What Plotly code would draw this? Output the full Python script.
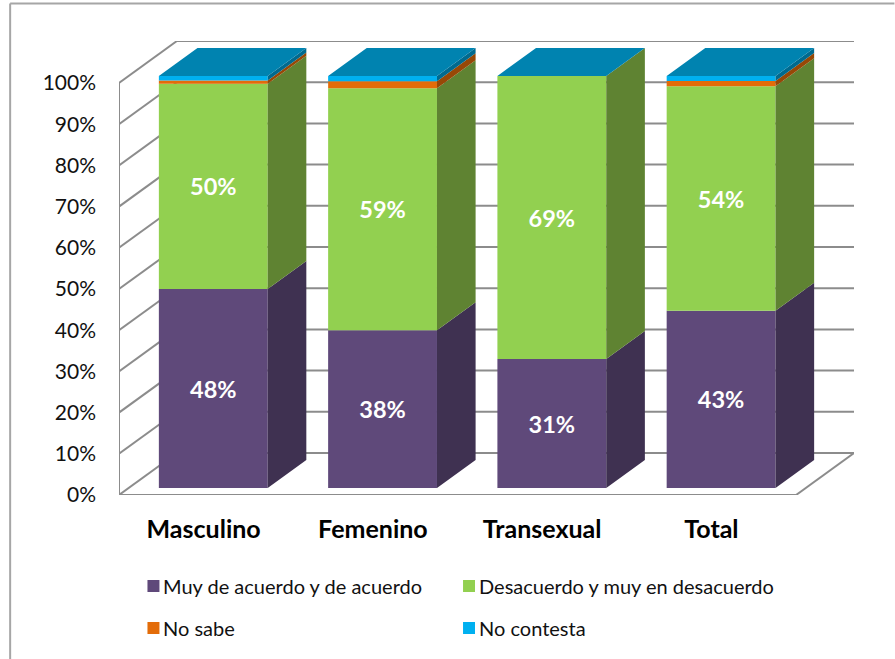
import plotly.graph_objects as go

# ---------- data ----------
categories = ["Masculino", "Femenino", "Transexual", "Total"]
muy_de_acuerdo = [48.3, 38.3, 31.3, 43.0]
desacuerdo = [49.8, 58.7, 68.7, 54.5]
no_sabe = [0.8, 1.7, 0.0, 1.3]
no_contesta = [1.1, 1.3, 0.0, 1.2]
labels_muy = ["48%", "38%", "31%", "43%"]
labels_des = ["50%", "59%", "69%", "54%"]
y_ticks = [0, 10, 20, 30, 40, 50, 60, 70, 80, 90, 100]
y_tick_labels = ["0%", "10%", "20%", "30%", "40%", "50%", "60%", "70%", "80%", "90%", "100%"]

series_names = ["Muy de acuerdo y de acuerdo", "Desacuerdo y muy en desacuerdo", "No sabe", "No contesta"]
series_values = [muy_de_acuerdo, desacuerdo, no_sabe, no_contesta]
series_text = [labels_muy, labels_des, None, None]
front_colors = ["#5f497a", "#92d050", "#e36c09", "#00b0f0"]
side_colors = ["#3f3151", "#5f8332", "#974806", "#006a8f"]
top_color = "#0083b0"

# ---------- layout geometry ----------
W, H = 895, 659
L, R, T, B = 118.5, 854.5, 41, 495     # plot box in page pixels
PX_PER_CAT = 169.5
PX_PER_PCT = 4.12
WALL_DX = 58 / PX_PER_CAT          # depth of the oblique floor in axis units
WALL_DY = 42 / PX_PER_PCT
D0, D1 = 1 / 6, 5 / 6              # bar depth as a fraction of the floor depth
BAR_W = 109 / PX_PER_CAT
GRID = "#8c8c8c"


def project(x, y, d):
    return x + d * WALL_DX, y + d * WALL_DY


def paper_x(px):
    return (px - L) / (R - L)


def paper_y(py):
    return (B - py) / (B - T)


fig = go.Figure()

# stacked bars: front faces through the bar trace, side faces as polygons
bases = [0.0] * len(categories)
x_front = [project(i, 0, D0)[0] for i in range(len(categories))]
y_shift = D0 * WALL_DY
for s, name in enumerate(series_names):
    vals = series_values[s]
    fig.add_trace(go.Bar(
        x=x_front, y=vals, base=[b + y_shift for b in bases], width=BAR_W, name=name,
        marker=dict(color=front_colors[s], line=dict(width=0)),
        text=series_text[s], textposition="inside" if series_text[s] else None,
        insidetextanchor="middle", textangle=0,
        textfont=dict(family="Lato", size=23.5, color="white", weight="bold"),
        showlegend=False, hoverinfo="name+y",
    ))
    sx, sy = [], []
    for i, v in enumerate(vals):
        if v <= 0:
            continue
        xr = i + BAR_W / 2
        corners = [project(xr, bases[i], D0), project(xr, bases[i], D1),
                   project(xr, bases[i] + v, D1), project(xr, bases[i] + v, D0)]
        sx += [c[0] for c in corners] + [corners[0][0], None]
        sy += [c[1] for c in corners] + [corners[0][1], None]
    fig.add_trace(go.Scatter(x=sx, y=sy, mode="lines", fill="toself", fillcolor=side_colors[s],
                             line=dict(width=0, color=side_colors[s]), showlegend=False,
                             hoverinfo="skip", name=name + " (lado)"))
    bases = [b + v for b, v in zip(bases, vals)]

# top faces of the stacks
tx, ty = [], []
for i, top in enumerate(bases):
    xl, xr = i - BAR_W / 2, i + BAR_W / 2
    corners = [project(xl, top, D0), project(xr, top, D0), project(xr, top, D1), project(xl, top, D1)]
    tx += [c[0] for c in corners] + [corners[0][0], None]
    ty += [c[1] for c in corners] + [corners[0][1], None]
fig.add_trace(go.Scatter(x=tx, y=ty, mode="lines", fill="toself", fillcolor=top_color,
                         line=dict(width=0, color=top_color), showlegend=False, hoverinfo="skip",
                         name="No contesta (cara superior)"))

# walls and floor
x0, x1 = -0.5, len(categories) - 0.5
shapes = []


def seg(xa, ya, xb, yb):
    shapes.append(dict(type="line", x0=xa, y0=ya, x1=xb, y1=yb, xref="x", yref="y", layer="below",
                       line=dict(color=GRID, width=2)))


for t in y_ticks:
    bx, by = project(x0, t, 1)
    seg(x0, t, bx, by)
    seg(bx, by, project(x1, t, 1)[0], by)
seg(x0, 0, x0, y_ticks[-1])
seg(x0, 0, x1, 0)
seg(x1, 0, *project(x1, 0, 1))

# outer chart frame
for (a, b, c, d) in [(9.5, 3.5, 895, 3.5), (9.5, 3.5, 9.5, 659)]:
    shapes.append(dict(type="line", xref="paper", yref="paper", x0=paper_x(a), y0=paper_y(b),
                       x1=paper_x(c), y1=paper_y(d), line=dict(color="#a6a6a6", width=2), layer="below"))

# legend (two columns, two rows)
legend_pos = [(147, 586), (463, 586), (147, 628), (463, 628)]
annotations = []
for s, (lx, ly) in enumerate(legend_pos):
    shapes.append(dict(type="rect", xref="paper", yref="paper", x0=paper_x(lx), x1=paper_x(lx + 12),
                       y0=paper_y(ly - 6), y1=paper_y(ly + 6), fillcolor=front_colors[s], line=dict(width=0)))
    annotations.append(dict(xref="paper", yref="paper", x=paper_x(lx + 14), y=paper_y(ly), text=series_names[s],
                            showarrow=False, xanchor="left", yanchor="middle", xshift=0,
                            font=dict(family="Lato", size=20, color="#111111")))

fig.update_layout(
    width=W, height=H, margin=dict(l=L, r=W - R, t=T, b=H - B, pad=0, autoexpand=False),
    paper_bgcolor="white", plot_bgcolor="white", barmode="overlay", showlegend=False,
    shapes=shapes, annotations=annotations,
    xaxis=dict(range=[x0, x0 + (R - L) / PX_PER_CAT], tickvals=list(range(len(categories))), ticktext=categories,
               showgrid=False, zeroline=False, showline=False, ticks="", ticklabelstandoff=17,
               tickfont=dict(family="Lato", size=25, color="black", weight="bold")),
    yaxis=dict(range=[0, (B - T) / PX_PER_PCT], tickvals=y_ticks, ticktext=y_tick_labels,
               showgrid=False, zeroline=False, showline=False, ticks="", ticklabelstandoff=22,
               tickfont=dict(family="Lato", size=21, color="#111111")),
)
fig.write_html("out.html", config={"displayModeBar": False}, post_script="document.body.style.margin='0';")
